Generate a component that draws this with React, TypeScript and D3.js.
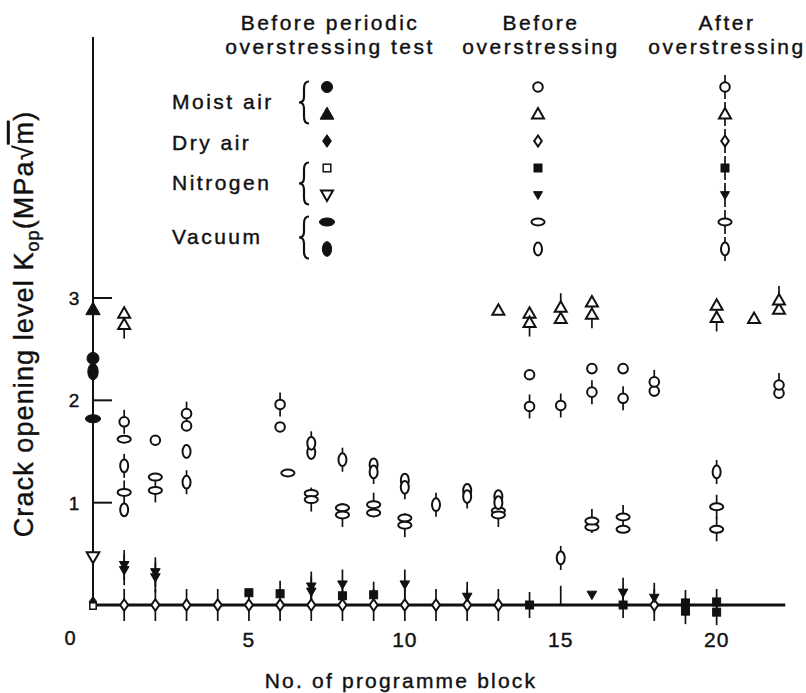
import React from 'react';
import * as d3 from 'd3';

type Pt = [number, number];
type Shape = 'circle' | 'triangle' | 'diamond' | 'square' | 'invtri' | 'hellipse' | 'vellipse' | 'none';

// ---------- axis ticks ----------
const blockTicks = [5, 10, 15, 20];
const kTicks = [1, 2, 3];
const originLabel = '0';

// ---------- data: [programme block, Kop (MPa√m)] ----------
// Before periodic overstressing test (block 0)
const moistCircleInitial: Pt[] = [[0, 2.41]];
const moistTriangleInitial: Pt[] = [[0, 2.89]];
const dryDiamondInitial: Pt[] = [[0, 0.03]];
const nitroSquareInitial: Pt[] = [[0, -0.01]];
const nitroInvTriInitial: Pt[] = [[0, 0.47]];
const vacHEllipseInitial: Pt[] = [[0, 1.82]];
const vacVEllipseInitial: Pt[] = [[0, 2.28]];

// Before overstressing
const moistCircleBefore: Pt[] = [[2, 1.61], [3, 1.75], [6, 1.74], [14, 2.25], [16, 2.31], [17, 2.31], [18, 2.09], [22, 2.07]];
const moistTriangleBefore: Pt[] = [[1, 2.85], [13, 2.88], [14, 2.85], [15, 2.8], [16, 2.96], [20, 2.93], [21.2, 2.8], [22, 2.89]];
const nitroSquareBefore: Pt[] = [[5, 0.12], [8, 0.09]];
const nitroInvTriBefore: Pt[] = [[16, 0.1]];
const vacHEllipseBefore: Pt[] = [[1, 1.62], [2, 1.25], [6.25, 1.29], [7, 1.09], [8, 0.95], [9, 0.9], [10, 0.85], [13, 0.92], [16, 0.76], [17, 0.74]];
const vacVEllipseBefore: Pt[] = [[1, 0.93], [3, 1.5], [7, 1.49], [9, 1.37], [10, 1.22], [12, 1.12], [13, 1.06], [13, 1.0]];

// After overstressing
const moistCircleAfter: Pt[] = [[1, 1.79], [3, 1.87], [6, 1.96], [14, 1.94], [15, 1.95], [16, 2.08], [17, 2.02], [18, 2.18], [22, 2.15]];
const moistTriangleAfter: Pt[] = [[1, 2.74], [14, 2.76], [15, 2.91], [16, 2.84], [20, 2.81], [22, 2.98]];
const dryDiamondAfter: Pt[] = [[1, 0], [2, 0], [3, 0], [4, 0], [5, 0], [6, 0], [7, 0], [8, 0], [9, 0], [10, 0], [11, 0], [12, 0], [13, 0], [18, 0]];
const nitroSquareAfter: Pt[] = [[6, 0.11], [9, 0.1], [14, 0], [17, 0], [19, 0.02], [19, -0.06], [20, 0.03], [20, -0.07]];
const nitroInvTriAfter: Pt[] = [[1, 0.39], [1, 0.34], [2, 0.32], [2, 0.27], [7, 0.18], [7, 0.13], [8, 0.2], [10, 0.2], [12, 0.08], [17, 0.12], [18, 0.07]];
const vacHEllipseAfter: Pt[] = [[1, 1.1], [2, 1.12], [7, 1.03], [8, 0.88], [9, 0.98], [10, 0.78], [13, 0.88], [16, 0.82], [17, 0.86], [20, 0.96], [20, 0.74]];
const vacVEllipseAfter: Pt[] = [[1, 1.36], [3, 1.2], [7, 1.58], [8, 1.42], [9, 1.3], [10, 1.15], [11, 0.98], [12, 1.06], [15, 0.46], [20, 1.3]];
const barOnly: Pt[] = [[15, 0.09]];

// ---------- legend ----------
const headers = [
  ['Before periodic', 'overstressing test'],
  ['Before', 'overstressing'],
  ['After', 'overstressing'],
];
const legendShapes: Shape[] = ['circle', 'triangle', 'diamond', 'square', 'invtri', 'hellipse', 'vellipse'];
const legendFilledInitial = [true, true, true, false, false, true, true];
const legendFilledBefore = [false, false, false, true, true, false, false];
const legendGroups = [
  { label: 'Moist air', rows: [0, 1] },
  { label: 'Dry air', rows: [2] },
  { label: 'Nitrogen', rows: [3, 4] },
  { label: 'Vacuum', rows: [5, 6] },
];

// ---------- series styling ----------
interface Series { data: Pt[]; shape: Shape; filled: boolean; bar: number; size: number; }
const series: Series[] = [
  { data: barOnly, shape: 'none', filled: false, bar: 10, size: 1 },
  { data: moistCircleInitial, shape: 'circle', filled: true, bar: 0, size: 1.25 },
  { data: moistTriangleInitial, shape: 'triangle', filled: true, bar: 0, size: 1.2 },
  { data: dryDiamondInitial, shape: 'diamond', filled: true, bar: 0, size: 1.0 },
  { data: nitroSquareInitial, shape: 'square', filled: false, bar: 0, size: 0.8 },
  { data: nitroInvTriInitial, shape: 'invtri', filled: false, bar: 0, size: 1.05 },
  { data: vacHEllipseInitial, shape: 'hellipse', filled: true, bar: 0, size: 1.15 },
  { data: vacVEllipseInitial, shape: 'vellipse', filled: true, bar: 0, size: 1.3 },
  { data: moistCircleBefore, shape: 'circle', filled: false, bar: 0, size: 1 },
  { data: moistTriangleBefore, shape: 'triangle', filled: false, bar: 0, size: 1 },
  { data: nitroSquareBefore, shape: 'square', filled: true, bar: 0, size: 1 },
  { data: nitroInvTriBefore, shape: 'invtri', filled: true, bar: 0, size: 0.8 },
  { data: vacHEllipseBefore, shape: 'hellipse', filled: false, bar: 0, size: 1 },
  { data: vacVEllipseBefore, shape: 'vellipse', filled: false, bar: 0, size: 1 },
  { data: dryDiamondAfter, shape: 'diamond', filled: false, bar: 16, size: 1.05 },
  { data: moistCircleAfter, shape: 'circle', filled: false, bar: 12, size: 1 },
  { data: moistTriangleAfter, shape: 'triangle', filled: false, bar: 14, size: 1 },
  { data: nitroSquareAfter, shape: 'square', filled: true, bar: 13, size: 1 },
  { data: nitroInvTriAfter, shape: 'invtri', filled: true, bar: 15, size: 0.8 },
  { data: vacHEllipseAfter, shape: 'hellipse', filled: false, bar: 12, size: 1 },
  { data: vacVEllipseAfter, shape: 'vellipse', filled: false, bar: 12, size: 1 },
];

const INK = '#111';
const FONT = '"Liberation Sans", Arial, Helvetica, sans-serif';
const TEXT_STROKE = { stroke: INK, strokeWidth: 0.4 };

function Marker({ shape, cx, cy, filled, size = 1 }: { shape: Shape; cx: number; cy: number; filled: boolean; size?: number }) {
  const s = size;
  const common = {
    fill: filled ? INK : '#fff',
    stroke: INK,
    strokeWidth: filled ? 1 : 2,
  };
  const t = `translate(${cx},${cy})`;
  switch (shape) {
    case 'circle':
      return <circle cx={cx} cy={cy} r={4.8 * s} {...common} />;
    case 'vellipse':
      return <ellipse cx={cx} cy={cy} rx={4 * s} ry={6.4 * s} {...common} />;
    case 'hellipse':
      return <ellipse cx={cx} cy={cy} rx={6.6 * s} ry={3.5 * s} {...common} />;
    case 'triangle':
      return <path transform={t} d={`M0,${-6 * s}L${6 * s},${4.5 * s}L${-6 * s},${4.5 * s}Z`} {...common} strokeLinejoin="miter" />;
    case 'invtri':
      return <path transform={t} d={`M${-6 * s},${-4.5 * s}L${6 * s},${-4.5 * s}L0,${6 * s}Z`} {...common} />;
    case 'diamond':
      return <path transform={t} d={`M0,${-5.5 * s}L${3.8 * s},0L0,${5.5 * s}L${-3.8 * s},0Z`} {...common} />;
    case 'square':
      return <rect x={cx - 4 * s} y={cy - 4 * s} width={8 * s} height={8 * s} {...common} strokeWidth={filled ? 1 : 1.5} />;
    default:
      return null;
  }
}

function bracePath(x: number, y0: number, y1: number, w: number) {
  const m = (y0 + y1) / 2;
  return `M${x + w},${y0} Q${x},${y0} ${x},${y0 + 7} L${x},${m - 6} Q${x},${m} ${x - w},${m} Q${x},${m} ${x},${m + 6} L${x},${y1 - 7} Q${x},${y1} ${x + w},${y1}`;
}

export default function App() {
  const W = 806;
  const H = 693;
  const x = d3.scaleLinear().domain([0, 22]).range([93, 779]);
  const y = d3.scaleLinear().domain([0, 3]).range([605, 298]);
  const axisX = x(0);
  const axisY = y(0);

  const legendCols = [327, 538, 725];
  const headerCols = [330, 541, 727];
  const rowY = (i: number) => 87 + i * 27;

  return (
    <svg width={W} height={H} viewBox={`0 0 ${W} ${H}`}
      style={{ position: 'absolute', left: 0, top: 0, background: '#fff', fontFamily: FONT }}>
      <rect width={W} height={H} fill="#fff" />

      {/* headers */}
      {headers.map((lines, ci) => (
        <text key={'h' + ci} x={headerCols[ci]} y={30} textAnchor="middle" fontSize={21} fill={INK} {...TEXT_STROKE} style={{ letterSpacing: '2.5px' }}>
          <tspan x={headerCols[ci]} y={30}>{lines[0]}</tspan>
          <tspan x={headerCols[ci]} y={54}>{lines[1]}</tspan>
        </text>
      ))}

      {/* legend labels and braces */}
      {legendGroups.map((g, gi) => {
        const cy = (rowY(g.rows[0]) + rowY(g.rows[g.rows.length - 1])) / 2;
        return (
          <g key={'lg' + gi}>
            <text x={172} y={cy + 8.5} fontSize={21} fill={INK} {...TEXT_STROKE} style={{ letterSpacing: '2.5px' }}>{g.label}</text>
            {g.rows.length > 1 && (
              <path d={bracePath(304, cy + 2 - 21, cy + 2 + 21, 5)} fill="none" stroke={INK} strokeWidth={2.2} />
            )}
          </g>
        );
      })}

      {/* legend bars for after-overstressing column */}
      {legendShapes.map((sh, i) => (
        <line key={'lb' + i} x1={legendCols[2]} x2={legendCols[2]} y1={rowY(i) - 12} y2={rowY(i) + 12} stroke={INK} strokeWidth={1.7} />
      ))}
      {legendShapes.map((sh, i) => (
        <g key={'lm' + i}>
          <Marker shape={sh} cx={legendCols[0]} cy={rowY(i)} filled={legendFilledInitial[i]}
            size={sh === 'square' ? 0.95 : sh === 'invtri' ? 1.0 : 1.15} />
          <Marker shape={sh} cx={legendCols[1]} cy={rowY(i)} filled={legendFilledBefore[i]}
            size={sh === 'invtri' ? 0.75 : 1} />
          <Marker shape={sh} cx={legendCols[2]} cy={rowY(i)} filled={legendFilledBefore[i]}
            size={sh === 'invtri' ? 0.75 : 1} />
        </g>
      ))}

      {/* y axis */}
      <line x1={axisX} x2={axisX} y1={axisY} y2={y(5.55)} stroke={INK} strokeWidth={2} />
      {kTicks.map(k => (
        <g key={'yt' + k}>
          <line x1={axisX} x2={axisX + 19} y1={y(k)} y2={y(k)} stroke={INK} strokeWidth={2} />
          <text x={axisX - 19} y={y(k) + 7} textAnchor="middle" fontSize={19} fill={INK} {...TEXT_STROKE}>{k}</text>
        </g>
      ))}

      {/* x axis */}
      <line x1={axisX} x2={x(22.2)} y1={axisY} y2={axisY} stroke={INK} strokeWidth={3} />
      {blockTicks.map(b => (
        <text key={'xt' + b} x={x(b)} y={647} textAnchor="middle" fontSize={21} fill={INK} {...TEXT_STROKE} style={{ letterSpacing: '1px' }}>{b}</text>
      ))}
      <text x={axisX - 23} y={645} textAnchor="middle" fontSize={20} fill={INK} {...TEXT_STROKE}>{originLabel}</text>

      {/* axis titles */}
      <text x={401} y={688} textAnchor="middle" fontSize={21} fill={INK} {...TEXT_STROKE} style={{ letterSpacing: '2.2px' }}>
        No. of programme block
      </text>
      <text transform="translate(33,324) rotate(-90)" textAnchor="middle" fontSize={27} fill={INK} {...TEXT_STROKE} style={{ letterSpacing: '1.1px' }}>
        Crack opening level K<tspan fontSize={18} dy={6}>op</tspan><tspan dy={-6}>(MPa√</tspan><tspan style={{ textDecoration: 'overline' }}>m</tspan>)
      </text>

      {/* bars */}
      {series.filter(s => s.bar > 0).map((s, si) => (
        <g key={'bars' + si}>
          {s.data.map((d, i) => (
            <line key={i} x1={x(d[0])} x2={x(d[0])} y1={y(d[1]) - s.bar} y2={y(d[1]) + s.bar} stroke={INK} strokeWidth={1.7} />
          ))}
        </g>
      ))}

      {/* markers */}
      {series.map((s, si) => (
        <g key={'ser' + si}>
          {s.data.map((d, i) => (
            <Marker key={i} shape={s.shape} cx={x(d[0])} cy={y(d[1])} filled={s.filled} size={s.size} />
          ))}
        </g>
      ))}
    </svg>
  );
}
